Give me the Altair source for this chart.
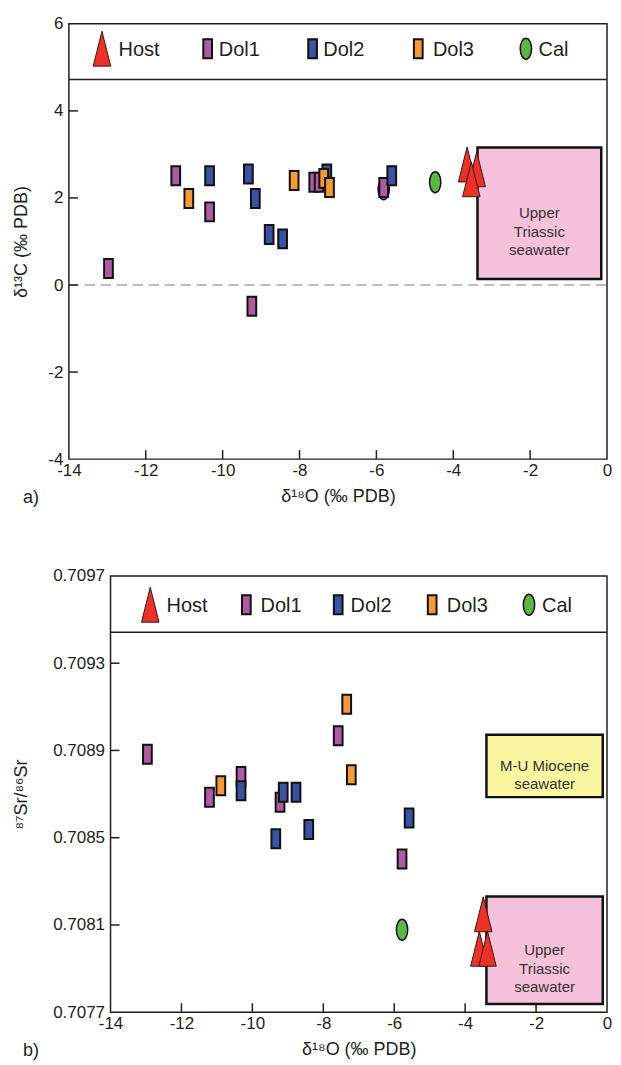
import altair as alt
import pandas as pd

# ---------------- Panel a: d18O vs d13C ----------------
a_host_x = [-3.64, -3.39, -3.53]
a_host_y = [2.77, 2.66, 2.43]
a_dol1_x = [-12.97, -11.22, -10.34, -9.24, -7.63, -7.49, -5.81]
a_dol1_y = [0.38, 2.51, 1.68, -0.49, 2.36, 2.36, 2.24]
a_dol2_x = [-10.34, -9.33, -9.15, -8.79, -8.44, -7.29, -5.60]
a_dol2_y = [2.51, 2.55, 1.99, 1.16, 1.06, 2.55, 2.51]
a_dol3_x = [-10.88, -8.14, -7.37, -7.22]
a_dol3_y = [1.99, 2.40, 2.45, 2.24]
a_cal_x = [-5.81, -4.47]
a_cal_y = [2.20, 2.36]

# ---------------- Panel b: d18O vs 87Sr/86Sr ----------------
b_host_x = [-3.49, -3.60, -3.37]
b_host_y = [0.708149, 0.707991, 0.707991]
b_dol1_x = [-12.96, -11.21, -10.32, -9.22, -7.58, -5.78]
b_dol1_y = [0.708883, 0.708685, 0.708781, 0.708663, 0.708967, 0.708402]
b_dol2_x = [-10.32, -9.13, -8.77, -9.34, -8.41, -5.58]
b_dol2_y = [0.708715, 0.708708, 0.708708, 0.708495, 0.708538, 0.708590]
b_dol3_x = [-10.89, -7.34, -7.21]
b_dol3_y = [0.708738, 0.709112, 0.708789]
b_cal_x = [-5.78]
b_cal_y = [0.708078]

groups = ["Host", "Dol1", "Dol2", "Dol3", "Cal"]

# seawater fields
a_box_label = ["Upper\nTriassic\nseawater"]
a_box_x = [-3.37]
a_box_x2 = [-0.15]
a_box_y = [0.14]
a_box_y2 = [3.16]
a_box_fill = ["#F6C1DB"]

b_box_label = ["M-U Miocene\nseawater", "Upper\nTriassic\nseawater"]
b_box_x = [-3.40, -3.40]
b_box_x2 = [-0.12, -0.12]
b_box_y = [0.708686, 0.707738]
b_box_y2 = [0.708972, 0.708231]
b_box_fill = ["#FBF6A0", "#F6C1DB"]

x_ticks = [-14, -12, -10, -8, -6, -4, -2, 0]
a_y_ticks = [-4, -2, 0, 2, 4, 6]
b_y_ticks = [0.7077, 0.7081, 0.7085, 0.7089, 0.7093, 0.7097]

# legend layout (data units of each panel)
a_leg_y = 5.43
a_leg_sym_x = [-13.14, -10.39, -7.66, -4.91, -2.11]
a_leg_txt_x = [-12.71, -10.10, -7.38, -4.53, -1.78]
a_band_y = 4.72
b_leg_y = 0.709568
b_leg_sym_x = [-12.88, -10.17, -7.58, -4.93, -2.20]
b_leg_txt_x = [-12.42, -9.77, -7.23, -4.52, -1.83]
b_band_y = 0.709442

FONT = "Liberation Sans"
INK = "#231F20"

RECT = "M-0.46,-1L0.46,-1L0.46,1L-0.46,1Z"
TRI = "M0,-1L0.5,1L-0.5,1Z"
ELL = ("M0,-1C0.298,-1,0.54,-0.5523,0.54,0C0.54,0.5523,0.298,1,0,1"
       "C-0.298,1,-0.54,0.5523,-0.54,0C-0.54,-0.5523,-0.298,-1,0,-1Z")

STYLE = {
    "Host": dict(shape=TRI, size=1225, fill="#EE3124", stroke="#2B1B1B", strokeWidth=1.0),
    "Dol1": dict(shape=RECT, size=361, fill="#B05AA6", stroke="#111111", strokeWidth=2.0),
    "Dol2": dict(shape=RECT, size=361, fill="#3953A4", stroke="#111111", strokeWidth=2.0),
    "Dol3": dict(shape=RECT, size=361, fill="#F89A32", stroke="#111111", strokeWidth=2.0),
    "Cal": dict(shape=ELL, size=441, fill="#5BB646", stroke="#111111", strokeWidth=1.5),
}
DRAW_ORDER = ["Cal", "Dol1", "Dol2", "Dol3", "Host"]
TICK_LEN = 9
W = 539          # width of the shared plot cell
B_INSET = 41.7   # panel b frame starts this many px right of panel a's frame


def make_panel(series, box, leg_sym_x, leg_txt_x, leg_y, band_y, ydom, yticks,
               h, inset, ytitle, ytitle_pad, tag, zero_line, ylab_expr=None, yfmt=None):
    xlo = -14 - inset * 14.0 / (W - inset)
    xs = alt.Scale(domain=[xlo, 0], nice=False, zero=False)
    ys = alt.Scale(domain=ydom, nice=False, zero=False)

    xkw = dict(values=x_ticks, orient="bottom", ticks=False, tickSize=0, domain=False,
               grid=False, labelOverlap=False, labelFlush=False,
               labelExpr="datum.value < 0 ? '-' + abs(datum.value) : '' + datum.value",
               labelFont=FONT, labelFontSize=17, labelColor=INK, labelPadding=3,
               title="δ¹⁸O (‰ PDB)", titleFont=FONT, titleFontSize=18,
               titleFontWeight="normal", titleColor=INK, titlePadding=9)
    if inset > 0:
        xkw["titleX"] = (inset + W) / 2.0
    x_main = alt.Axis(**xkw)
    ykw = dict(values=yticks, orient="left", ticks=False, tickSize=0, domain=False, grid=False,
               labelOverlap=False, labelFlush=False, labelFont=FONT, labelFontSize=17,
               labelColor=INK, labelPadding=6, title=ytitle, titleFont=FONT, titleFontSize=18,
               titleFontWeight="normal", titleColor=INK, titlePadding=ytitle_pad)
    if inset > 0:
        ykw["offset"] = -inset
    if ylab_expr:
        ykw["labelExpr"] = ylab_expr
    if yfmt:
        ykw["format"] = yfmt
    y_main = alt.Axis(**ykw)

    def X(f):
        return alt.X(f, type="quantitative", scale=xs, axis=x_main)

    def Y(f):
        return alt.Y(f, type="quantitative", scale=ys, axis=y_main)

    frame = pd.DataFrame({"x": [-14], "x2": [0], "y": [ydom[0]], "y2": [ydom[1]]})
    layers = []
    if zero_line:
        layers.append(
            alt.Chart(pd.DataFrame({"x": [-14], "x2": [0], "y": [0.0]})).mark_rule(
                color="#A7A9AC", strokeWidth=1.6, strokeDash=[10, 6]
            ).encode(x=X("x"), x2="x2:Q", y=Y("y"))
        )
    layers.append(
        alt.Chart(pd.DataFrame({"x": [-14], "x2": [0], "y": [band_y]}))
        .mark_rule(color=INK, strokeWidth=1.5)
        .encode(x=X("x"), x2="x2:Q", y=Y("y"))
    )
    # inward tick marks
    layers.append(
        alt.Chart(pd.DataFrame({"x": x_ticks[1:-1], "y": [ydom[0]] * (len(x_ticks) - 2)}))
        .mark_tick(orient="vertical", size=TICK_LEN, thickness=1.5, color=INK,
                   yOffset=-TICK_LEN / 2.0, opacity=1)
        .encode(x=X("x"), y=Y("y"))
    )
    layers.append(
        alt.Chart(pd.DataFrame({"x": [-14] * (len(yticks) - 2), "y": yticks[1:-1]}))
        .mark_tick(orient="horizontal", size=TICK_LEN, thickness=1.5, color=INK,
                   xOffset=TICK_LEN / 2.0, opacity=1)
        .encode(x=X("x"), y=Y("y"))
    )
    bdf = pd.DataFrame(box)
    bdf["tx"] = (bdf["x"] + bdf["x2"]) / 2
    bdf["ty"] = (bdf["y"] + bdf["y2"]) / 2
    layers.append(
        alt.Chart(bdf).mark_rect(stroke="#111111", strokeWidth=2.5).encode(
            x=X("x"), x2="x2:Q", y=Y("y"), y2="y2:Q",
            fill=alt.Fill("fill:N", scale=None),
        )
    )
    layers.append(
        alt.Chart(bdf).mark_text(font=FONT, fontSize=15, lineHeight=18.5, color="#333333",
                                 lineBreak="\n", baseline="middle", align="center").encode(
            x=X("tx"), y=Y("ty"), text="label:N",
        )
    )
    for g in DRAW_ORDER:
        st = STYLE[g]
        gx, gy = series[g]
        df = pd.DataFrame({"x": gx, "y": gy})
        layers.append(
            alt.Chart(df).mark_point(shape=st["shape"], size=st["size"], filled=True,
                                     fill=st["fill"], stroke=st["stroke"],
                                     strokeWidth=st["strokeWidth"], opacity=1).encode(
                x=X("x"), y=Y("y"),
            )
        )
    # legend symbols
    for g, sx in zip(groups, leg_sym_x):
        st = STYLE[g]
        layers.append(
            alt.Chart(pd.DataFrame({"x": [sx], "y": [leg_y]})).mark_point(
                shape=st["shape"], size=st["size"], filled=True, fill=st["fill"],
                stroke=st["stroke"], strokeWidth=st["strokeWidth"], opacity=1).encode(
                x=X("x"), y=Y("y"),
            )
        )
    layers.append(
        alt.Chart(pd.DataFrame({"x": leg_txt_x, "y": [leg_y] * 5, "label": groups}))
        .mark_text(font=FONT, fontSize=20, color=INK, align="left", baseline="middle", dy=1)
        .encode(x=X("x"), y=Y("y"), text="label:N")
    )
    # frame
    layers.append(
        alt.Chart(frame).mark_rect(fillOpacity=0, stroke=INK, strokeWidth=1.5)
        .encode(x=X("x"), x2="x2:Q", y=Y("y"), y2="y2:Q")
    )
    layers.append(
        alt.Chart(pd.DataFrame({"t": [tag]})).mark_text(
            font=FONT, fontSize=18, color=INK, align="left", baseline="middle")
        .encode(x=alt.value(-46), y=alt.value(h + 39), text="t:N")
    )
    return alt.layer(*layers).properties(width=W, height=h)


series_a = {"Host": (a_host_x, a_host_y), "Dol1": (a_dol1_x, a_dol1_y),
            "Dol2": (a_dol2_x, a_dol2_y), "Dol3": (a_dol3_x, a_dol3_y),
            "Cal": (a_cal_x, a_cal_y)}
series_b = {"Host": (b_host_x, b_host_y), "Dol1": (b_dol1_x, b_dol1_y),
            "Dol2": (b_dol2_x, b_dol2_y), "Dol3": (b_dol3_x, b_dol3_y),
            "Cal": (b_cal_x, b_cal_y)}

box_a = {"x": a_box_x, "x2": a_box_x2, "y": a_box_y, "y2": a_box_y2,
         "fill": a_box_fill, "label": a_box_label}
box_b = {"x": b_box_x, "x2": b_box_x2, "y": b_box_y, "y2": b_box_y2,
         "fill": b_box_fill, "label": b_box_label}

top = make_panel(series_a, box_a, a_leg_sym_x, a_leg_txt_x, a_leg_y, a_band_y, [-4, 6],
                 a_y_ticks, 436, 0, "δ¹³C (‰ PDB)", 17, "a)", True,
                 ylab_expr="datum.value < 0 ? '-' + abs(datum.value) : '' + datum.value")
bottom = make_panel(series_b, box_b, b_leg_sym_x, b_leg_txt_x, b_leg_y, b_band_y,
                    [0.7077, 0.7097], b_y_ticks, 437, B_INSET, "⁸⁷Sr/⁸⁶Sr", 22, "b)", False,
                    yfmt=".4f")

chart = alt.vconcat(top, bottom, spacing=58).properties(
    padding={"left": 4, "top": 5, "right": 0, "bottom": 0}
).configure_view(stroke="transparent")

chart.save("out.html", embed_options={"renderer": "svg", "actions": False})
